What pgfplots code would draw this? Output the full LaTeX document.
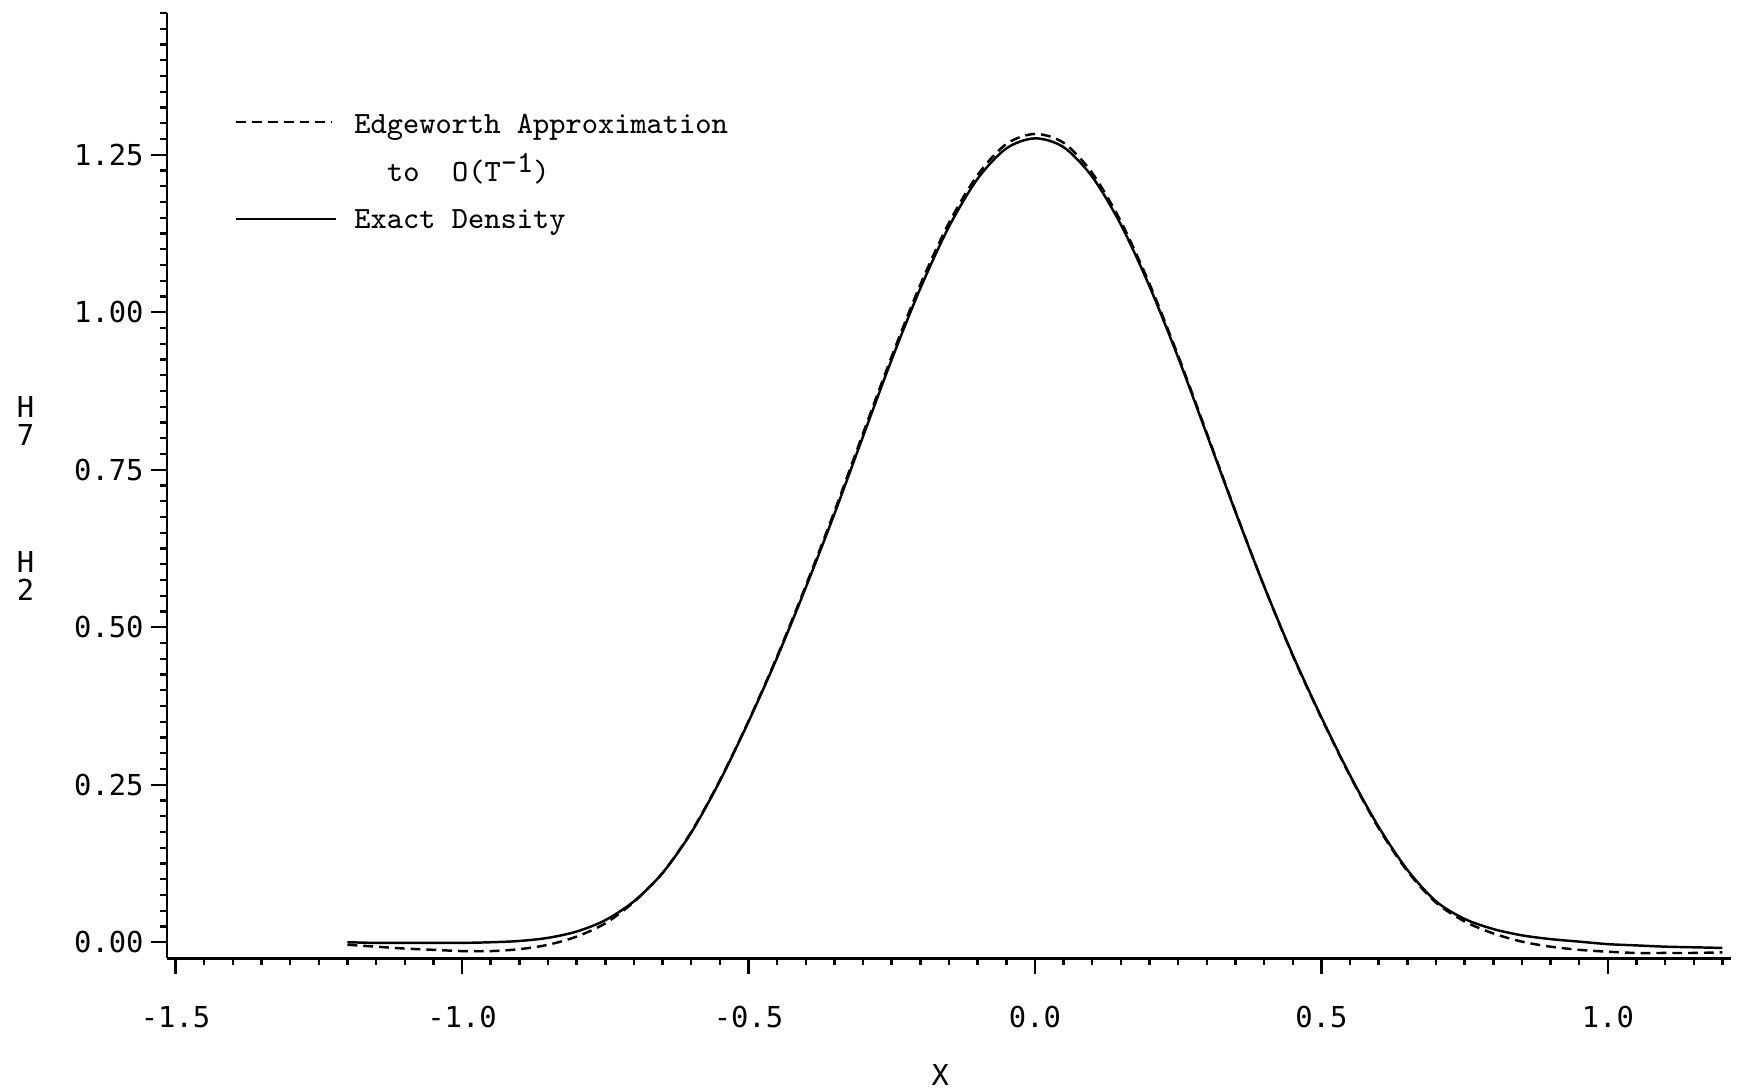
\documentclass[border=0pt]{standalone}
\usepackage{fontspec}
\usepackage{pgfplots}
\usepackage{pgfplotstable}
\pgfplotsset{compat=1.18}

% plotter-style lettering for the axes; the key is set in the typewriter face
\newfontfamily\plotfont{DejaVu Sans Mono}

% exact density of the estimator
\pgfplotstableread{
x      y
-1.20  0.000
-1.15 -0.001
-1.10 -0.001
-1.05 -0.001
-1.00 -0.001
-0.95  0.000
-0.90  0.002
-0.85  0.007
-0.80  0.017
-0.75  0.035
-0.70  0.065
-0.65  0.110
-0.60  0.174
-0.55  0.256
-0.50  0.350
-0.45  0.452
-0.40  0.563
-0.35  0.680
-0.30  0.803
-0.25  0.925
-0.20  1.038
-0.15  1.136
-0.10  1.212
-0.05  1.260
 0.00  1.276
 0.05  1.262
 0.10  1.215
 0.15  1.139
 0.20  1.041
 0.25  0.928
 0.30  0.806
 0.35  0.683
 0.40  0.565
 0.45  0.456
 0.50  0.357
 0.55  0.265
 0.60  0.183
 0.65  0.115
 0.70  0.065
 0.75  0.037
 0.80  0.021
 0.85  0.011
 0.90  0.005
 0.95  0.001
 1.00 -0.003
 1.05 -0.005
 1.10 -0.007
 1.15 -0.008
 1.20 -0.009
}\exactdensity

% Edgeworth approximation to O(T^-1)
\pgfplotstableread{
x      y
-1.20 -0.004
-1.15 -0.007
-1.10 -0.010
-1.05 -0.012
-1.00 -0.014
-0.95 -0.014
-0.90 -0.011
-0.85 -0.004
-0.80  0.009
-0.75  0.030
-0.70  0.064
-0.65  0.110
-0.60  0.175
-0.55  0.257
-0.50  0.351
-0.45  0.454
-0.40  0.566
-0.35  0.684
-0.30  0.808
-0.25  0.930
-0.20  1.044
-0.15  1.142
-0.10  1.218
-0.05  1.267
 0.00  1.283
 0.05  1.269
 0.10  1.221
 0.15  1.144
 0.20  1.045
 0.25  0.931
 0.30  0.808
 0.35  0.684
 0.40  0.565
 0.45  0.455
 0.50  0.356
 0.55  0.264
 0.60  0.181
 0.65  0.113
 0.70  0.063
 0.75  0.033
 0.80  0.014
 0.85  0.001
 0.90 -0.007
 0.95 -0.012
 1.00 -0.015
 1.05 -0.017
 1.10 -0.017
 1.15 -0.017
 1.20 -0.016
}\edgeworth

\tikzset{edgedash/.style={dash pattern=on 2.8pt off 1.7pt}}

\begin{document}
\begin{tikzpicture}
\begin{axis}[
  name=ax,
  scale only axis,
  width=15.64cm, height=9.45cm,
  xmin=-1.515, xmax=1.215,
  ymin=-0.025, ymax=1.475,
  axis lines*=left,
  axis line style={line width=0.85pt},
  tick align=outside,
  xtick={-1.5,-1,-0.5,0,0.5,1},
  xticklabels={-1.5,-1.0,-0.5,0.0,0.5,1.0},
  ytick={0,0.25,0.5,0.75,1,1.25},
  yticklabels={0.00,0.25,0.50,0.75,1.00,1.25},
  minor xtick={-1.45,-1.40,...,1.21},
  minor ytick={0.025,0.05,...,1.48},
  major tick length=0.16cm,
  minor tick length=0.07cm,
  tick style={black, line width=0.7pt},
  ticklabel style={font=\plotfont\fontsize{8.2}{9}\selectfont},
  xticklabel style={yshift=-0.20cm},
  yticklabel style={xshift=0.05cm},
  clip=false,
]
\addplot[black, line width=0.7pt, edgedash, smooth] table[x=x, y=y] {\edgeworth};
\addplot[black, line width=0.7pt, smooth] table[x=x, y=y] {\exactdensity};

% key
\draw[black, line width=0.7pt, edgedash] (axis cs:-1.394,1.302) -- (axis cs:-1.228,1.302);
\node[anchor=base west, inner sep=0pt, font=\ttfamily\fontsize{8.8}{10}\selectfont]
  at (axis cs:-1.189,1.284) {Edgeworth Approximation};
\node[anchor=base west, inner sep=0pt, font=\ttfamily\fontsize{8.8}{10}\selectfont]
  at (axis cs:-1.132,1.208) {to\ \ O(T\raisebox{2.4pt}{-1})};
\draw[black, line width=0.7pt] (axis cs:-1.394,1.148) -- (axis cs:-1.220,1.148);
\node[anchor=base west, inner sep=0pt, font=\ttfamily\fontsize{8.8}{10}\selectfont]
  at (axis cs:-1.189,1.133) {Exact Density};

% axis titles
\node[align=center, inner sep=0pt, font=\plotfont\fontsize{8.2}{8}\selectfont]
  at (axis cs:-1.762,0.704) {H\\7\\[28pt]H\\2};
\node[inner sep=0pt, font=\plotfont\fontsize{8.2}{9}\selectfont]
  at (axis cs:-0.165,-0.211) {X};
\end{axis}
\pgfresetboundingbox
\path[use as bounding box] ([shift={(-1.67cm,-1.30cm)}]ax.south west)
  rectangle ([shift={(0.11cm,0.13cm)}]ax.north east);
\end{tikzpicture}
\end{document}
